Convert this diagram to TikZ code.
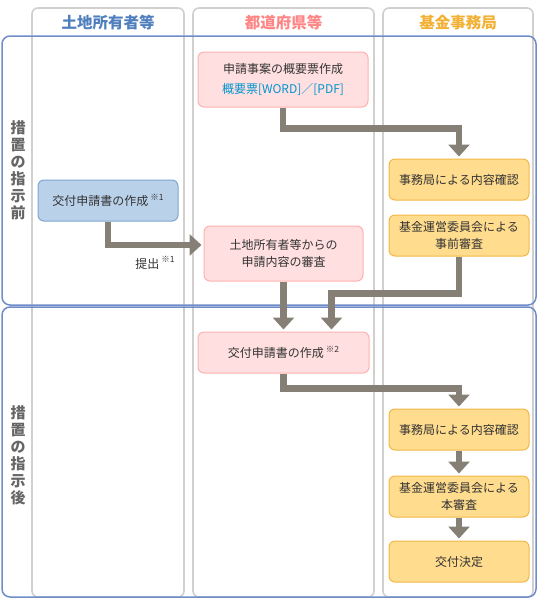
\documentclass[tikz,border=0pt]{standalone}
\usepackage{fontspec}
\setmainfont{Noto Sans CJK JP}
\usetikzlibrary{arrows.meta,calc}
\definecolor{colgray}{HTML}{D2D0CE}
\definecolor{phaseblue}{HTML}{6F8DC9}
\definecolor{arrgray}{HTML}{857F75}
\definecolor{pinkfill}{HTML}{FFDFDF}
\definecolor{pinkdraw}{HTML}{FFB0B0}
\definecolor{bluefill}{HTML}{BAD1EA}
\definecolor{bluedraw}{HTML}{7FA5CF}
\definecolor{orfill}{HTML}{FFDC8E}
\definecolor{ordraw}{HTML}{F2B846}
\definecolor{hblue}{HTML}{4F7FBD}
\definecolor{hpink}{HTML}{FF8585}
\definecolor{horange}{HTML}{F2B134}
\definecolor{linkblue}{HTML}{0095D0}
\definecolor{txt}{HTML}{333333}
\definecolor{sidegray}{HTML}{666666}
\tikzset{
  colbox/.style={draw=colgray,line width=1.6pt,rounded corners=6pt},
  phasebox/.style={draw=phaseblue,line width=1.5pt,rounded corners=8pt},
  boxbase/.style={rounded corners=6pt,line width=1pt,align=center,text=txt,
    font=\fontsize{12pt}{17pt}\selectfont,inner sep=0pt},
  pinkbox/.style={boxbase,fill=pinkfill,draw=pinkdraw},
  bluebox/.style={boxbase,fill=bluefill,draw=bluedraw},
  orbox/.style={boxbase,fill=orfill,draw=ordraw},
  header/.style={font=\fontsize{15.5pt}{18pt}\selectfont\bfseries},
  sidelabel/.style={font=\fontsize{15pt}{17pt}\selectfont\bfseries,text=sidegray,align=center},
  flow/.style={draw=arrgray,line width=6.5pt,-{Triangle[width=21pt,length=12pt]},shorten >=2pt},
}
\newcommand{\note}[1]{\,\raisebox{0.45em}{\fontsize{8.5pt}{8.5pt}\selectfont ※#1}}
\begin{document}
\begin{tikzpicture}[x=1pt,y=-1pt]
\useasboundingbox (0,0) rectangle (540,600);
% columns
\draw[colbox] (32,8) rectangle (184,597);
\draw[colbox] (193,8) rectangle (374,597);
\draw[colbox] (383,8) rectangle (533,597);
% headers
\node[header,text=hblue] (h1) at (108,23) {土地所有者等};
\node[header,text=hpink] (h2) at (283.5,23) {都道府県等};
\node[header,text=horange] (h3) at (458,23) {基金事務局};
% phases
\draw[phasebox] (2,36) rectangle (536,305);
\draw[phasebox] (2,307) rectangle (536,597);
\node[sidelabel] (s1) at (18,170) {措\\置\\の\\指\\示\\前};
\node[sidelabel] (s2) at (18,455) {措\\置\\の\\指\\示\\後};
% nodes
\node[pinkbox,minimum width=170pt,minimum height=55pt] (A) at (283,79.5)
  {申請事案の概要票作成\\[3pt]{\color{linkblue}概要票[WORD]／[PDF]}};
\node[bluebox,minimum width=140pt,minimum height=41pt] (B) at (108,200.5)
  {交付申請書の作成\note{1}};
\node[pinkbox,minimum width=159pt,minimum height=55pt] (C) at (283.5,253.5)
  {土地所有者等からの\\申請内容の審査};
\node[orbox,minimum width=140pt,minimum height=41pt] (D) at (459,179.5)
  {事務局による内容確認};
\node[orbox,minimum width=140pt,minimum height=41pt] (E) at (459,235.5)
  {基金運営委員会による\\事前審査};
\node[pinkbox,minimum width=171pt,minimum height=41pt] (F) at (283.5,352.5)
  {交付申請書の作成\note{2}};
\node[orbox,minimum width=140pt,minimum height=41pt] (G) at (459,429.5)
  {事務局による内容確認};
\node[orbox,minimum width=140pt,minimum height=41pt] (H) at (459,496.5)
  {基金運営委員会による\\本審査};
\node[orbox,minimum width=140pt,minimum height=41pt] (I) at (459,561.5)
  {交付決定};
% connectors
\draw[flow] (A.south) -- ++(0,21) -| (D.north);
\draw[flow] (B.south) |- ([yshift=8.5pt]C.west);
\node[font=\fontsize{12pt}{14pt}\selectfont,text=txt] (lbl) at (155,263) {提出\note{1}};
\draw[flow] (C.south) -- (F.north);
\draw[flow] (E.south) -- ++(0,37) -| ([xshift=48pt]F.north);
\draw[flow] (F.south) -- ++(0,15) -| (G.north);
\draw[flow] (G.south) -- (H.north);
\draw[flow] (H.south) -- (I.north);
\end{tikzpicture}
\end{document}
